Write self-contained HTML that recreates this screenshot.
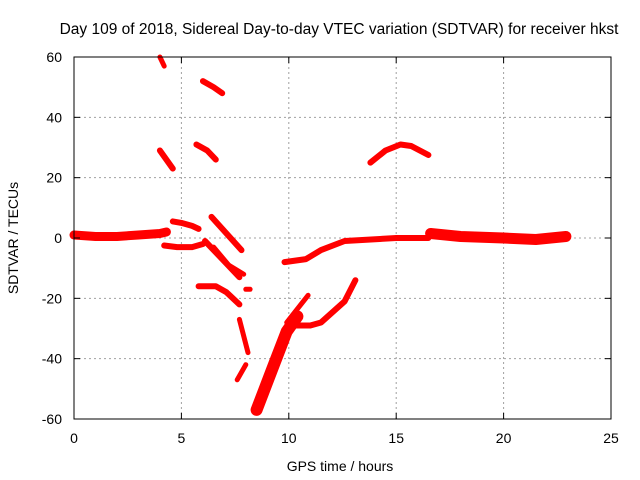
<!DOCTYPE html>
<html><head><meta charset="utf-8"><style>
body{margin:0;background:#fff}
svg{display:block;font-family:"Liberation Sans",sans-serif}
</style></head><body>
<svg id="c" width="640" height="480">
<rect width="640" height="480" fill="#fff"/>
<g id="grid"></g>
<g id="marks"></g>
<rect x="74" y="57" width="537" height="362" fill="none" stroke="#000" stroke-width="1"/>
<g id="ticks"></g>
<text x="339" y="34" font-size="15.5" text-anchor="middle">Day 109 of 2018, Sidereal Day-to-day VTEC variation (SDTVAR) for receiver hkst</text>
<text x="340" y="471" font-size="14" text-anchor="middle">GPS time / hours</text>
<text transform="translate(18,238) rotate(-90)" font-size="14" text-anchor="middle">SDTVAR / TECUs</text>
</svg>
<script>
const xTicks=[0,5,10,15,20,25];
const yTicks=[-60,-40,-20,0,20,40,60];
const segTimes=[
[0,1,2,3,4,4.3],
[4.6,5,5.5,5.8],
[4.2,4.8,5.5,6],
[6.4,7.1,7.8],
[6.1,6.9,7.7],
[6.5,7.2,7.9],
[5.8,6.6,7.1,7.7],
[4.0,4.2],
[6.0,6.5,6.9],
[4.0,4.3,4.6],
[5.7,6.2,6.6],
[7.7,8.1],
[7.6,8.0],
[8.5,9.2,9.9,10.4],
[10.0,11.0,11.5,12.6,13.1],
[9.8,10.8,11.5,12.6,15,16.5],
[13.8,14.5,15.2,15.7,16.5],
[16.6,18,20,21.5,22.9],
[8.0,8.2],
[9.9,10.9]
];
const segValues=[
[1,0.5,0.5,1,1.5,2],
[5.5,5,4,3],
[-2.5,-3,-3,-2],
[7,1.5,-4],
[-1,-7,-13],
[-3,-9,-12],
[-16,-16,-18,-22],
[60,57],
[52,50,48],
[29,26,23],
[31,29,26],
[-27,-38],
[-47,-42],
[-57,-44,-31,-26],
[-29,-29,-28,-21,-14],
[-8,-7,-4,-1,0,0],
[25,29,31,30.5,27.5],
[1.5,0.5,0,-0.5,0.5],
[-17,-17],
[-28,-19]
];
const segWidths=[9,6,6,6,6,5,6,5,6,6,6,5,5,12,6,6,6,11,5,5];
const NS="http://www.w3.org/2000/svg";
const X0=74,X1=611,Y0=419,Y1=57;
function sx(h){return X0+(h-0)/(25-0)*(X1-X0);}
function sy(v){return Y0-(v+60)/120*(Y0-Y1);}
const grid=document.getElementById('grid'),ticks=document.getElementById('ticks'),marks=document.getElementById('marks');
function el(t,a,p){const e=document.createElementNS(NS,t);for(const k in a)e.setAttribute(k,a[k]);p.appendChild(e);return e;}
xTicks.forEach(t=>{
 const x=sx(t);
 if(t>0&&t<25){const g=el('line',{x1:x,x2:x,y1:Y1,y2:Y0,stroke:'#a0a0a0','stroke-dasharray':'2,3'},grid);
 
 }
 const a=el('line',{x1:x,x2:x,y1:Y0,y2:Y0-6,stroke:'#000'},ticks);
 
 
 const b=el('line',{x1:x,x2:x,y1:Y1,y2:Y1+6,stroke:'#000'},ticks);
 
 
 const l=el('text',{x:x,y:443,'font-size':14,'text-anchor':'middle'},ticks);l.textContent=t;
 
 
});
yTicks.forEach(t=>{
 const y=sy(t);
 if(t>-60&&t<60){const g=el('line',{x1:X0,x2:X1,y1:y,y2:y,stroke:'#a0a0a0','stroke-dasharray':'2,3'},grid);
 
 }
 const a=el('line',{x1:X0,x2:X0+6,y1:y,y2:y,stroke:'#000'},ticks);
 
 
 const b=el('line',{x1:X1,x2:X1-6,y1:y,y2:y,stroke:'#000'},ticks);
 
 
 const l=el('text',{x:62,y:y+5,'font-size':14,'text-anchor':'end'},ticks);l.textContent=t;
 
 
});
segTimes.forEach((ts,i)=>{
 const pts=ts.map((h,j)=>sx(h).toFixed(1)+','+sy(segValues[i][j]).toFixed(1)).join(' ');
 const p=el('polyline',{points:pts,fill:'none',stroke:'#f00','stroke-width':segWidths[i],'stroke-linejoin':'round','stroke-linecap':'round'},marks);
 
 
});
</script>
</body></html>
